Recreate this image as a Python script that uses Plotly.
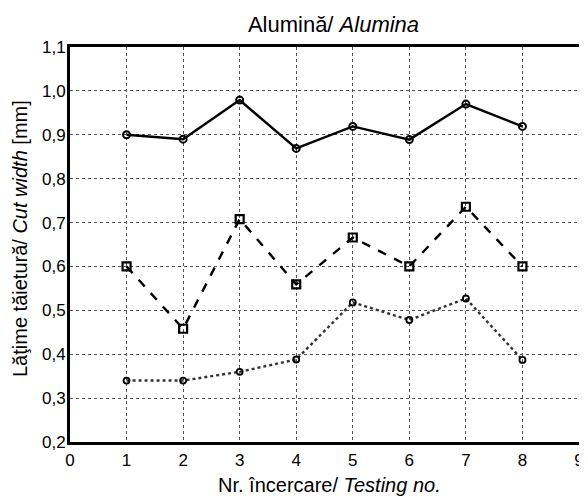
import plotly.graph_objects as go

tests = [1, 2, 3, 4, 5, 6, 7, 8]
series_top = [0.90, 0.89, 0.979, 0.869, 0.919, 0.889, 0.970, 0.919]
series_mid = [0.60, 0.458, 0.708, 0.559, 0.666, 0.60, 0.736, 0.60]
series_low = [0.34, 0.34, 0.36, 0.388, 0.518, 0.478, 0.527, 0.387]

FONT = "Liberation Sans, Arial, sans-serif"

# page body has an 8px margin, so the figure is sized to the visible area
W, H = 579, 488
L, R, T, B = 62, 8, 39, 54
PW, PH = W - L - R, H - T - B

fig = go.Figure()
fig.add_trace(go.Scatter(x=tests, y=series_top, mode="lines+markers",
                         line=dict(color="black", width=2.4, dash="solid"),
                         marker=dict(symbol="circle-open", size=7, color="black", line=dict(width=2))))
fig.add_trace(go.Scatter(x=tests, y=series_mid, mode="lines+markers",
                         line=dict(color="black", width=2.4, dash="dash"),
                         marker=dict(symbol="square-open", size=8, color="black", line=dict(width=2.2))))
fig.add_trace(go.Scatter(x=tests, y=series_low, mode="lines+markers",
                         line=dict(color="#333333", width=2.4, dash="dot"),
                         marker=dict(symbol="circle-open", size=6, color="black", line=dict(width=1.8))))

fig.update_layout(
    width=W, height=H,
    margin=dict(l=L, r=R, t=T, b=B),
    paper_bgcolor="white", plot_bgcolor="white",
    showlegend=False,
    separators=", ",
    font=dict(family=FONT, color="black", size=16),
    title=dict(text="Alumină/ <i>Alumina</i>", x=(325.5 - L) / PW, xanchor="center", xref="paper",
               y=1 - 16 / H, yanchor="middle", font=dict(size=22, family=FONT)),
    annotations=[
        dict(text="Nr. încercare/ <i>Testing no.</i>", xref="paper", yref="paper",
             x=0.5 + 5 / PW, y=-(477 - (H - B)) / PH, xanchor="center", yanchor="middle",
             showarrow=False, font=dict(size=20, family=FONT)),
        dict(text="Lăţime tăietură/ <i>Cut width</i> [mm]", xref="paper", yref="paper",
             x=-(L - 12) / PW, y=0.5 + 5.5 / PH, xanchor="center", yanchor="middle",
             textangle=-90, showarrow=False, font=dict(size=20, family=FONT)),
    ],
)
fig.update_xaxes(range=[0, 9], tickmode="linear", tick0=0, dtick=1,
                 showgrid=True, gridcolor="#555555", griddash="dot", gridwidth=1,
                 showline=True, linecolor="black", linewidth=3, mirror=True,
                 ticks="", zeroline=False, automargin=False, ticklabelstandoff=1,
                 tickfont=dict(size=17))
fig.update_yaxes(range=[0.2, 1.1], tickmode="linear", tick0=0.2, dtick=0.1, tickformat=".1f",
                 showgrid=True, gridcolor="#555555", griddash="dot", gridwidth=1,
                 showline=True, linecolor="black", linewidth=3, mirror=True,
                 ticks="", zeroline=False, automargin=False, ticklabelstandoff=-2,
                 tickfont=dict(size=17))

fig.write_html("out.html")
